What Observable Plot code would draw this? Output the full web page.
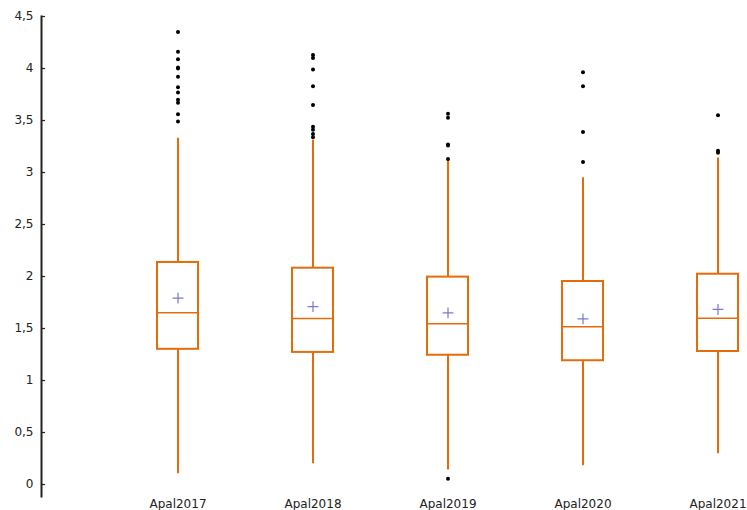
<!DOCTYPE html>
<html>
<head>
<meta charset="utf-8">
<script src="https://cdn.jsdelivr.net/npm/d3@7"></script>
<script src="https://cdn.jsdelivr.net/npm/@observablehq/plot@0.6"></script>
<style>
  html, body { margin: 0; padding: 0; background: #fff; }
  #chart svg { display: block; }
</style>
</head>
<body>
<div id="chart"></div>
<script>
const categories = ["Apal2017", "Apal2018", "Apal2019", "Apal2020", "Apal2021"];
const whiskerLow = [0.103, 0.199, 0.14, 0.18, 0.295];
const q1 = [1.30, 1.27, 1.243, 1.19, 1.279];
const median = [1.651, 1.596, 1.545, 1.516, 1.599];
const q3 = [2.135, 2.08, 1.994, 1.952, 2.022];
const whiskerHigh = [3.33, 3.31, 3.115, 2.95, 3.14];
const means = [1.792, 1.71, 1.65, 1.593, 1.683];
const outliers2017 = [4.35, 4.16, 4.09, 4.01, 4.0, 3.92, 3.82, 3.77, 3.70, 3.67, 3.56, 3.49];
const outliers2018 = [4.13, 4.10, 3.99, 3.83, 3.65, 3.44, 3.41, 3.37, 3.34];
const outliers2019 = [3.565, 3.526, 3.27, 3.26, 3.13, 0.055];
const outliers2020 = [3.965, 3.83, 3.39, 3.10];
const outliers2021 = [3.55, 3.21, 3.19];
const yTicks = [0, 0.5, 1, 1.5, 2, 2.5, 3, 3.5, 4, 4.5];

const outlierLists = [outliers2017, outliers2018, outliers2019, outliers2020, outliers2021];
const stats = categories.map((c, i) => ({
  cat: c, lo: whiskerLow[i], q1: q1[i], med: median[i], q3: q3[i], hi: whiskerHigh[i], mean: means[i]
}));
const outliers = categories.flatMap((c, i) => outlierLists[i].map(v => ({cat: c, v})));

const orange = "#e46c0a";

const chart = Plot.plot({
  width: 747,
  height: 510,
  marginTop: 16,
  marginBottom: 14,
  marginLeft: 41,
  marginRight: 10,
  style: {fontFamily: "'DejaVu Sans', sans-serif", fontSize: "12px", color: "#222", background: "#fff"},
  x: {type: "band", domain: categories, range: [156.75, 737.25], paddingInner: 0.7, paddingOuter: 0, label: null},
  y: {domain: [0, 4.5], range: [484, 16], label: null},
  marks: [
    Plot.frame({anchor: "left", stroke: "#222", strokeWidth: 2}),
    Plot.axisY({ticks: yTicks, tickSize: -4, tickPadding: 12, tickFormat: d => String(d).replace(".", ","), stroke: "#222", strokeWidth: 1.2}),
    Plot.axisX({tickSize: 0, tickPadding: 3}),
    Plot.ruleX(stats, {x: "cat", y1: "lo", y2: "q1", stroke: orange, strokeWidth: 2}),
    Plot.ruleX(stats, {x: "cat", y1: "q3", y2: "hi", stroke: orange, strokeWidth: 2}),
    Plot.barY(stats, {x: "cat", y1: "q1", y2: "q3", fill: "white", stroke: orange, strokeWidth: 2}),
    Plot.tickY(stats, {x: "cat", y: "med", stroke: orange, strokeWidth: 1.5}),
    Plot.dot(stats, {x: "cat", y: "mean", symbol: "plus", r: 3.6, stroke: "#7b79cf", strokeWidth: 1.2}),
    Plot.dot(outliers, {x: "cat", y: "v", r: 2, fill: "#000", stroke: null})
  ]
});
document.getElementById("chart").appendChild(chart);
</script>
</body>
</html>
